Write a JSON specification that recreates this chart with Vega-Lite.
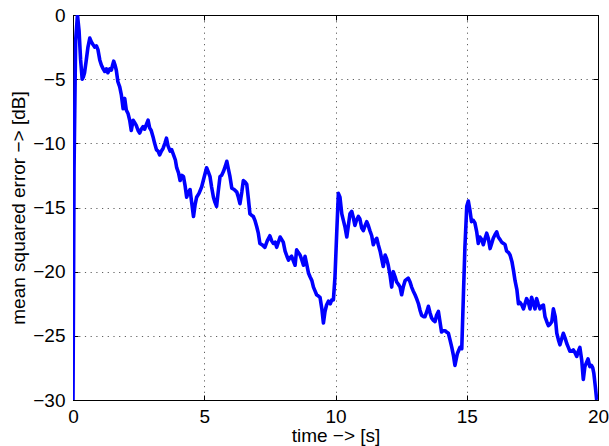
{
  "$schema": "https://vega.github.io/schema/vega-lite/v6.json",
  "width": 525,
  "height": 385,
  "autosize": "none",
  "padding": {"left": 73, "top": 15, "right": 11, "bottom": 46},
  "background": "white",
  "config": {
    "view": {"stroke": "#000", "strokeWidth": 1},
    "font": "Liberation Sans",
    "axis": {
      "domainColor": "#000",
      "domainWidth": 1,
      "tickColor": "#000",
      "tickWidth": 1,
      "labelColor": "#000",
      "labelFont": "Liberation Sans",
      "labelFontSize": 19,
      "titleColor": "#000",
      "titleFont": "Liberation Sans",
      "titleFontSize": 19,
      "titleFontWeight": "normal",
      "gridColor": "#444",
      "gridDash": [1.2, 4.5],
      "gridWidth": 1,
      "gridOpacity": 0.85
    }
  },
  "data": {
    "values": [
      {"t": 0, "mse": -30}, {"t": 0.04, "mse": -12}, {"t": 0.1, "mse": -2}, {"t": 0.17, "mse": 0},
      {"t": 0.23, "mse": -1.2}, {"t": 0.29, "mse": -3.5}, {"t": 0.35, "mse": -5.0}, {"t": 0.4, "mse": -4.8},
      {"t": 0.44, "mse": -4.5}, {"t": 0.5, "mse": -3.6}, {"t": 0.57, "mse": -2.5}, {"t": 0.64, "mse": -1.8},
      {"t": 0.7, "mse": -2.1}, {"t": 0.76, "mse": -2.3}, {"t": 0.83, "mse": -2.5}, {"t": 0.89, "mse": -2.4},
      {"t": 0.95, "mse": -2.7}, {"t": 1.02, "mse": -3.5}, {"t": 1.08, "mse": -3.9}, {"t": 1.15, "mse": -4.2},
      {"t": 1.21, "mse": -4.4}, {"t": 1.27, "mse": -4.2}, {"t": 1.33, "mse": -4.5}, {"t": 1.4, "mse": -4.2},
      {"t": 1.46, "mse": -4.3}, {"t": 1.51, "mse": -3.9}, {"t": 1.55, "mse": -3.6}, {"t": 1.6, "mse": -3.9},
      {"t": 1.65, "mse": -4.3}, {"t": 1.71, "mse": -5.2}, {"t": 1.78, "mse": -5.6}, {"t": 1.84, "mse": -6.2},
      {"t": 1.91, "mse": -7.3}, {"t": 1.97, "mse": -6.5}, {"t": 2.03, "mse": -7.4}, {"t": 2.1, "mse": -7.7},
      {"t": 2.16, "mse": -8.2}, {"t": 2.22, "mse": -9.0}, {"t": 2.29, "mse": -8.2}, {"t": 2.35, "mse": -8.4},
      {"t": 2.41, "mse": -8.6}, {"t": 2.48, "mse": -9.0}, {"t": 2.54, "mse": -9.2}, {"t": 2.6, "mse": -8.9},
      {"t": 2.67, "mse": -8.7}, {"t": 2.73, "mse": -8.9}, {"t": 2.8, "mse": -8.5}, {"t": 2.86, "mse": -8.2},
      {"t": 2.92, "mse": -8.8}, {"t": 2.98, "mse": -9.0}, {"t": 3.05, "mse": -9.5}, {"t": 3.11, "mse": -10.0},
      {"t": 3.18, "mse": -10.5}, {"t": 3.24, "mse": -10.6}, {"t": 3.3, "mse": -10.9}, {"t": 3.37, "mse": -10.6},
      {"t": 3.43, "mse": -10.4}, {"t": 3.5, "mse": -10.0}, {"t": 3.56, "mse": -9.6}, {"t": 3.62, "mse": -10.2},
      {"t": 3.7, "mse": -10.6}, {"t": 3.76, "mse": -10.5}, {"t": 3.83, "mse": -10.9}, {"t": 3.9, "mse": -11.3},
      {"t": 3.95, "mse": -11.9}, {"t": 4.02, "mse": -12.3}, {"t": 4.08, "mse": -12.9}, {"t": 4.15, "mse": -12.5},
      {"t": 4.21, "mse": -12.6}, {"t": 4.27, "mse": -13.3}, {"t": 4.33, "mse": -14.2}, {"t": 4.4, "mse": -13.8},
      {"t": 4.46, "mse": -13.6}, {"t": 4.52, "mse": -14.6}, {"t": 4.59, "mse": -15.7}, {"t": 4.65, "mse": -14.8},
      {"t": 4.71, "mse": -14.2}, {"t": 4.8, "mse": -13.9}, {"t": 4.9, "mse": -13.4}, {"t": 5.0, "mse": -12.6},
      {"t": 5.09, "mse": -11.9}, {"t": 5.15, "mse": -12.2}, {"t": 5.22, "mse": -12.6}, {"t": 5.28, "mse": -13.4},
      {"t": 5.35, "mse": -14.2}, {"t": 5.41, "mse": -14.6}, {"t": 5.47, "mse": -14.9}, {"t": 5.53, "mse": -13.8},
      {"t": 5.6, "mse": -12.6}, {"t": 5.66, "mse": -12.5}, {"t": 5.73, "mse": -12.2}, {"t": 5.8, "mse": -11.8},
      {"t": 5.86, "mse": -11.4}, {"t": 5.92, "mse": -12.0}, {"t": 5.98, "mse": -12.6}, {"t": 6.05, "mse": -13.5},
      {"t": 6.14, "mse": -13.6}, {"t": 6.24, "mse": -13.8}, {"t": 6.3, "mse": -14.2}, {"t": 6.36, "mse": -14.7},
      {"t": 6.43, "mse": -13.8}, {"t": 6.49, "mse": -12.9}, {"t": 6.55, "mse": -13.0}, {"t": 6.62, "mse": -13.2},
      {"t": 6.68, "mse": -14.3}, {"t": 6.74, "mse": -15.5}, {"t": 6.8, "mse": -15.6}, {"t": 6.87, "mse": -15.7},
      {"t": 6.93, "mse": -16.0}, {"t": 7.0, "mse": -16.5}, {"t": 7.06, "mse": -17.0}, {"t": 7.12, "mse": -17.8},
      {"t": 7.2, "mse": -17.9}, {"t": 7.31, "mse": -18.1}, {"t": 7.4, "mse": -17.6}, {"t": 7.5, "mse": -17.2},
      {"t": 7.57, "mse": -17.6}, {"t": 7.63, "mse": -17.8}, {"t": 7.7, "mse": -17.7}, {"t": 7.76, "mse": -18.1},
      {"t": 7.89, "mse": -17.3}, {"t": 8.01, "mse": -17.7}, {"t": 8.08, "mse": -18.4}, {"t": 8.15, "mse": -18.8},
      {"t": 8.21, "mse": -19.1}, {"t": 8.27, "mse": -18.9}, {"t": 8.33, "mse": -18.8}, {"t": 8.4, "mse": -19.2},
      {"t": 8.46, "mse": -19.5}, {"t": 8.52, "mse": -18.3}, {"t": 8.58, "mse": -18.5}, {"t": 8.65, "mse": -18.7},
      {"t": 8.72, "mse": -19.1}, {"t": 8.78, "mse": -19.5}, {"t": 8.84, "mse": -18.8}, {"t": 8.9, "mse": -19.4},
      {"t": 8.97, "mse": -20.1}, {"t": 9.03, "mse": -20.4}, {"t": 9.1, "mse": -20.7}, {"t": 9.16, "mse": -21.2},
      {"t": 9.22, "mse": -21.5}, {"t": 9.28, "mse": -21.8}, {"t": 9.35, "mse": -21.9}, {"t": 9.41, "mse": -22.0},
      {"t": 9.48, "mse": -22.9}, {"t": 9.54, "mse": -24.0}, {"t": 9.6, "mse": -23.1}, {"t": 9.66, "mse": -22.6},
      {"t": 9.73, "mse": -22.3}, {"t": 9.8, "mse": -22.5}, {"t": 9.86, "mse": -22.2}, {"t": 9.92, "mse": -22.2},
      {"t": 9.98, "mse": -20.4}, {"t": 10.05, "mse": -16.8}, {"t": 10.11, "mse": -13.9}, {"t": 10.17, "mse": -14.2},
      {"t": 10.24, "mse": -15.5}, {"t": 10.3, "mse": -16.0}, {"t": 10.36, "mse": -16.5}, {"t": 10.43, "mse": -17.3},
      {"t": 10.49, "mse": -16.4}, {"t": 10.55, "mse": -15.5}, {"t": 10.62, "mse": -15.3}, {"t": 10.68, "mse": -15.8},
      {"t": 10.74, "mse": -16.4}, {"t": 10.8, "mse": -16.0}, {"t": 10.87, "mse": -15.7}, {"t": 10.93, "mse": -15.9},
      {"t": 11.0, "mse": -16.6}, {"t": 11.06, "mse": -16.8}, {"t": 11.13, "mse": -16.4}, {"t": 11.19, "mse": -16.1},
      {"t": 11.25, "mse": -16.4}, {"t": 11.31, "mse": -16.8}, {"t": 11.38, "mse": -17.2}, {"t": 11.44, "mse": -17.9},
      {"t": 11.5, "mse": -17.6}, {"t": 11.57, "mse": -17.4}, {"t": 11.63, "mse": -17.9}, {"t": 11.7, "mse": -18.4},
      {"t": 11.76, "mse": -19.0}, {"t": 11.82, "mse": -19.6}, {"t": 11.89, "mse": -18.7}, {"t": 11.95, "mse": -19.0},
      {"t": 12.01, "mse": -19.5}, {"t": 12.08, "mse": -20.3}, {"t": 12.14, "mse": -21.2}, {"t": 12.2, "mse": -20.0},
      {"t": 12.27, "mse": -20.4}, {"t": 12.33, "mse": -20.8}, {"t": 12.4, "mse": -21.0}, {"t": 12.46, "mse": -21.2},
      {"t": 12.52, "mse": -21.8}, {"t": 12.58, "mse": -21.2}, {"t": 12.65, "mse": -20.7}, {"t": 12.71, "mse": -20.6},
      {"t": 12.77, "mse": -20.5}, {"t": 12.84, "mse": -20.8}, {"t": 12.9, "mse": -21.2}, {"t": 12.96, "mse": -21.5},
      {"t": 13.03, "mse": -21.8}, {"t": 13.09, "mse": -22.1}, {"t": 13.16, "mse": -22.5}, {"t": 13.22, "mse": -23.0},
      {"t": 13.28, "mse": -23.4}, {"t": 13.35, "mse": -23.5}, {"t": 13.41, "mse": -23.5}, {"t": 13.48, "mse": -23.1},
      {"t": 13.54, "mse": -22.7}, {"t": 13.6, "mse": -23.2}, {"t": 13.66, "mse": -23.6}, {"t": 13.73, "mse": -23.8},
      {"t": 13.79, "mse": -23.9}, {"t": 13.85, "mse": -23.4}, {"t": 13.92, "mse": -23.1}, {"t": 13.98, "mse": -23.9},
      {"t": 14.04, "mse": -24.7}, {"t": 14.1, "mse": -24.6}, {"t": 14.17, "mse": -24.6}, {"t": 14.23, "mse": -24.7},
      {"t": 14.3, "mse": -24.8}, {"t": 14.36, "mse": -25.3}, {"t": 14.43, "mse": -25.9}, {"t": 14.49, "mse": -26.5},
      {"t": 14.55, "mse": -27.3}, {"t": 14.6, "mse": -26.8}, {"t": 14.64, "mse": -26.4}, {"t": 14.7, "mse": -26.1},
      {"t": 14.74, "mse": -25.9}, {"t": 14.81, "mse": -26.0}, {"t": 14.87, "mse": -22.0}, {"t": 14.93, "mse": -18.1},
      {"t": 15.0, "mse": -14.9}, {"t": 15.06, "mse": -14.5}, {"t": 15.12, "mse": -15.2}, {"t": 15.18, "mse": -16.1},
      {"t": 15.25, "mse": -16.0}, {"t": 15.31, "mse": -16.2}, {"t": 15.38, "mse": -16.9}, {"t": 15.44, "mse": -17.8},
      {"t": 15.5, "mse": -17.3}, {"t": 15.57, "mse": -17.5}, {"t": 15.63, "mse": -17.9}, {"t": 15.7, "mse": -17.4},
      {"t": 15.76, "mse": -17.0}, {"t": 15.82, "mse": -17.4}, {"t": 15.89, "mse": -18.2}, {"t": 15.95, "mse": -17.8},
      {"t": 16.01, "mse": -17.4}, {"t": 16.08, "mse": -17.1}, {"t": 16.14, "mse": -16.9}, {"t": 16.2, "mse": -17.3},
      {"t": 16.27, "mse": -17.5}, {"t": 16.33, "mse": -17.7}, {"t": 16.4, "mse": -17.8}, {"t": 16.46, "mse": -17.9},
      {"t": 16.52, "mse": -18.4}, {"t": 16.59, "mse": -18.5}, {"t": 16.65, "mse": -18.7}, {"t": 16.72, "mse": -19.2},
      {"t": 16.78, "mse": -19.9}, {"t": 16.84, "mse": -20.7}, {"t": 16.91, "mse": -21.4}, {"t": 16.97, "mse": -22.5},
      {"t": 17.03, "mse": -22.4}, {"t": 17.1, "mse": -22.6}, {"t": 17.16, "mse": -22.9}, {"t": 17.22, "mse": -22.5},
      {"t": 17.28, "mse": -22.1}, {"t": 17.35, "mse": -22.4}, {"t": 17.41, "mse": -22.9}, {"t": 17.47, "mse": -22.0},
      {"t": 17.54, "mse": -22.5}, {"t": 17.6, "mse": -22.9}, {"t": 17.66, "mse": -22.1}, {"t": 17.72, "mse": -22.5},
      {"t": 17.79, "mse": -22.9}, {"t": 17.85, "mse": -22.7}, {"t": 17.92, "mse": -22.6}, {"t": 17.98, "mse": -23.5},
      {"t": 18.05, "mse": -23.9}, {"t": 18.11, "mse": -24.2}, {"t": 18.17, "mse": -24.1}, {"t": 18.24, "mse": -23.9},
      {"t": 18.3, "mse": -22.9}, {"t": 18.37, "mse": -23.5}, {"t": 18.43, "mse": -24.8}, {"t": 18.49, "mse": -25.3},
      {"t": 18.55, "mse": -25.7}, {"t": 18.62, "mse": -25.2}, {"t": 18.68, "mse": -24.8}, {"t": 18.75, "mse": -25.2},
      {"t": 18.81, "mse": -25.6}, {"t": 18.87, "mse": -25.9}, {"t": 18.93, "mse": -26.2}, {"t": 19.0, "mse": -26.2},
      {"t": 19.06, "mse": -26.1}, {"t": 19.12, "mse": -26.3}, {"t": 19.19, "mse": -26.6}, {"t": 19.25, "mse": -26.2},
      {"t": 19.31, "mse": -25.9}, {"t": 19.38, "mse": -26.9}, {"t": 19.44, "mse": -28.4}, {"t": 19.5, "mse": -27.4},
      {"t": 19.56, "mse": -27.1}, {"t": 19.62, "mse": -26.8}, {"t": 19.69, "mse": -27.4}, {"t": 19.75, "mse": -27.3},
      {"t": 19.8, "mse": -27.5}, {"t": 19.84, "mse": -27.9}, {"t": 19.9, "mse": -29.0}, {"t": 19.95, "mse": -30}
    ]
  },
  "layer": [
    {
      "mark": {"type": "line", "color": "#0000ff", "strokeWidth": 3.6, "clip": true, "strokeJoin": "round"},
      "encoding": {
        "x": {
          "field": "t", "type": "quantitative",
          "scale": {"domain": [0, 20], "nice": false, "zero": false},
          "axis": {"orient": "bottom", "title": "time −> [s]", "values": [0, 5, 10, 15, 20], "grid": true, "ticks": false, "tickSize": 0, "labelPadding": 7, "titlePadding": 0, "labelFlush": false}
        },
        "y": {
          "field": "mse", "type": "quantitative",
          "scale": {"domain": [-30, 0], "nice": false, "zero": false},
          "axis": {"orient": "left", "title": "mean squared error −> [dB]", "values": [-30, -25, -20, -15, -10, -5, 0], "grid": true, "ticks": false, "tickSize": 0, "labelPadding": 8, "titlePadding": 4, "labelFlush": false}
        }
      }
    },
    {
      "mark": {"type": "line", "opacity": 0},
      "encoding": {
        "x": {
          "field": "t", "type": "quantitative",
          "scale": {"domain": [0, 20], "nice": false, "zero": false},
          "axis": {"orient": "bottom", "title": null, "values": [0, 5, 10, 15, 20], "grid": false, "labels": false, "tickSize": -5, "domain": false}
        },
        "y": {
          "field": "mse", "type": "quantitative",
          "scale": {"domain": [-30, 0], "nice": false, "zero": false},
          "axis": {"orient": "left", "title": null, "values": [-30, -25, -20, -15, -10, -5, 0], "grid": false, "labels": false, "tickSize": -5, "domain": false}
        }
      }
    },
    {
      "mark": {"type": "line", "opacity": 0},
      "encoding": {
        "x": {
          "field": "t", "type": "quantitative",
          "scale": {"domain": [0, 20], "nice": false, "zero": false},
          "axis": {"orient": "top", "title": null, "values": [0, 5, 10, 15, 20], "grid": false, "labels": false, "tickSize": -5}
        },
        "y": {
          "field": "mse", "type": "quantitative",
          "scale": {"domain": [-30, 0], "nice": false, "zero": false},
          "axis": {"orient": "right", "title": null, "values": [-30, -25, -20, -15, -10, -5, 0], "grid": false, "labels": false, "tickSize": -5}
        }
      }
    }
  ],
  "resolve": {"axis": {"x": "independent", "y": "independent"}}
}
